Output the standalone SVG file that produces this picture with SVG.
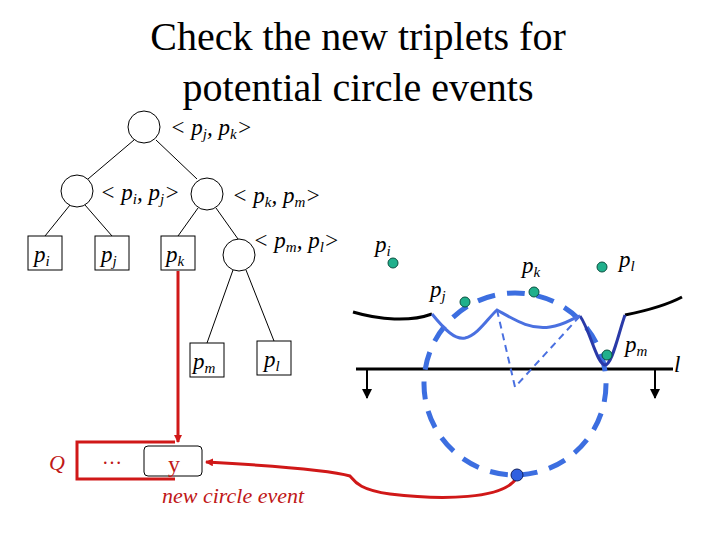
<svg xmlns="http://www.w3.org/2000/svg" width="720" height="540" viewBox="0 0 720 540" font-family="'Liberation Serif', 'Times New Roman', Times, serif">
<style>
text{font-family:'Liberation Serif','Times New Roman',Times,serif}
.n{fill:#fff;stroke:#000;stroke-width:1}
.e{stroke:#000;stroke-width:1}
.lab{font-style:italic;font-size:23px}
.site{fill:#20b08c;stroke:#0a5040;stroke-width:1}
.red{stroke:#d01818;stroke-width:3;fill:none}
</style>
<defs>
<marker id="ra" markerWidth="8" markerHeight="8" refX="7" refY="4" orient="auto" markerUnits="userSpaceOnUse"><path d="M0,0 L8,4 L0,8z" fill="#d01818"/></marker>
<marker id="ba" markerWidth="10" markerHeight="10" refX="9" refY="5" orient="auto" markerUnits="userSpaceOnUse"><path d="M0,0 L10,5 L0,10z" fill="#000"/></marker>
</defs>
<rect width="720" height="540" fill="#fff"/>
<text x="358" y="50" font-size="40" text-anchor="middle">Check the new triplets for</text>
<text x="358" y="101" font-size="40" text-anchor="middle">potential circle events</text>
<g id="edges">
<line class="e" x1="134" y1="140" x2="88" y2="179"/>
<line class="e" x1="156" y1="140" x2="197" y2="179"/>
<line class="e" x1="70" y1="205" x2="45" y2="236"/>
<line class="e" x1="85" y1="205" x2="112" y2="236"/>
<line class="e" x1="198" y1="208" x2="178" y2="236"/>
<line class="e" x1="216" y1="208" x2="238" y2="239"/>
<line class="e" x1="233" y1="270" x2="207" y2="343"/>
<line class="e" x1="246" y1="270" x2="274" y2="341"/>
</g>
<g id="n-root"><circle class="n" cx="144" cy="127" r="16"/><text class="lab" x="170" y="135">&lt; p<tspan font-size="15" dy="4">j</tspan><tspan dy="-4">, p</tspan><tspan font-size="15" dy="4">k</tspan><tspan dy="-4">&gt;</tspan></text></g>
<g id="n-ij"><circle class="n" cx="77" cy="191" r="16"/><text class="lab" x="100" y="200">&lt; p<tspan font-size="15" dy="4">i</tspan><tspan dy="-4">, p</tspan><tspan font-size="15" dy="4">j</tspan><tspan dy="-4">&gt;</tspan></text></g>
<g id="n-km"><circle class="n" cx="207" cy="194" r="16"/><text class="lab" x="232" y="203">&lt; p<tspan font-size="15" dy="4">k</tspan><tspan dy="-4">, p</tspan><tspan font-size="15" dy="4">m</tspan><tspan dy="-4">&gt;</tspan></text></g>
<g id="n-ml"><circle class="n" cx="239" cy="255" r="16"/><text class="lab" x="253" y="248">&lt; p<tspan font-size="15" dy="4">m</tspan><tspan dy="-4">, p</tspan><tspan font-size="15" dy="4">l</tspan><tspan dy="-4">&gt;</tspan></text></g>
<g id="leaf-i"><rect class="n" x="28" y="236" width="34" height="34"/><text class="lab" x="34" y="262">p<tspan font-size="15" dy="4">i</tspan></text></g>
<g id="leaf-j"><rect class="n" x="95" y="236" width="34" height="34"/><text class="lab" x="101" y="262">p<tspan font-size="15" dy="4">j</tspan></text></g>
<g id="leaf-k"><rect class="n" x="161" y="236" width="34" height="34"/><text class="lab" x="166" y="262">p<tspan font-size="15" dy="4">k</tspan></text></g>
<g id="leaf-m"><rect class="n" x="190" y="343" width="34" height="34"/><text class="lab" x="193" y="369">p<tspan font-size="15" dy="4">m</tspan></text></g>
<g id="leaf-l"><rect class="n" x="257" y="341" width="34" height="34"/><text class="lab" x="264" y="367">p<tspan font-size="15" dy="4">l</tspan></text></g>
<g id="queue">
<path class="red" d="M175,442 H77 V479 H175"/>
<rect x="144" y="446" width="58" height="30" rx="4" fill="#fff" stroke="#000" stroke-width="1"/>
<text x="57" y="470" font-size="22" font-style="italic" fill="#c01818" text-anchor="middle">Q</text>
<text x="112" y="464" font-size="20" fill="#c01818" text-anchor="middle">…</text>
<text x="174" y="472" font-size="24" fill="#c01818" text-anchor="middle">y</text>
<text x="233" y="503" font-size="22" font-style="italic" fill="#c01818" text-anchor="middle">new circle event</text>
</g>
<g id="connectors">
<path class="red" d="M178,271 V442" marker-end="url(#ra)"/>
<path class="red" d="M517,477 C505,500 440,500 390,494 C360,490 355,482 350,476 C330,470 260,465 206,462" marker-end="url(#ra)"/>
</g>
<g id="scene">
<line x1="356" y1="369" x2="673" y2="369" stroke="#000" stroke-width="3"/>
<line x1="367" y1="369" x2="367" y2="398" stroke="#000" stroke-width="2" marker-end="url(#ba)"/>
<line x1="655" y1="369" x2="655" y2="398" stroke="#000" stroke-width="2" marker-end="url(#ba)"/>
<path d="M353,312 C380,320 410,322 432,314" stroke="#000" stroke-width="3" fill="none"/>
<path d="M625,315 C645,311 665,306 682,297" stroke="#000" stroke-width="3" fill="none"/>
<circle cx="515" cy="384" r="91" fill="none" stroke="#3c6ee0" stroke-width="5" stroke-dasharray="18 12"/>
<path d="M432,314 C445,330 455,340 465,338 C478,335 488,318 497,310 C515,320 530,330 550,327 C565,325 573,318 580,316" stroke="#4a70e0" stroke-width="3" fill="none"/>
<path d="M580,316 C590,330 597,365 605,365 C612,365 618,335 625,315" stroke="#2a3aa8" stroke-width="3" fill="none"/>
<path d="M497,310 L515,387 L580,316" stroke="#4a70e0" stroke-width="2" fill="none" stroke-dasharray="7 5"/>
<circle class="site" cx="393" cy="263" r="5"/>
<circle class="site" cx="465" cy="302" r="5"/>
<circle class="site" cx="534" cy="292" r="5"/>
<circle class="site" cx="602" cy="267" r="5"/>
<circle class="site" cx="607" cy="355" r="5"/>
<circle cx="517" cy="475" r="6" fill="#3060e0" stroke="#102060"/>
<text class="lab" x="375" y="252">p<tspan font-size="15" dy="4">i</tspan></text>
<text class="lab" x="430" y="297">p<tspan font-size="15" dy="4">j</tspan></text>
<text class="lab" x="522" y="273">p<tspan font-size="15" dy="4">k</tspan></text>
<text class="lab" x="619" y="267">p<tspan font-size="15" dy="4">l</tspan></text>
<text class="lab" x="625" y="352">p<tspan font-size="15" dy="4">m</tspan></text>
<text class="lab" x="674" y="372">l</text>
</g>
</svg>
